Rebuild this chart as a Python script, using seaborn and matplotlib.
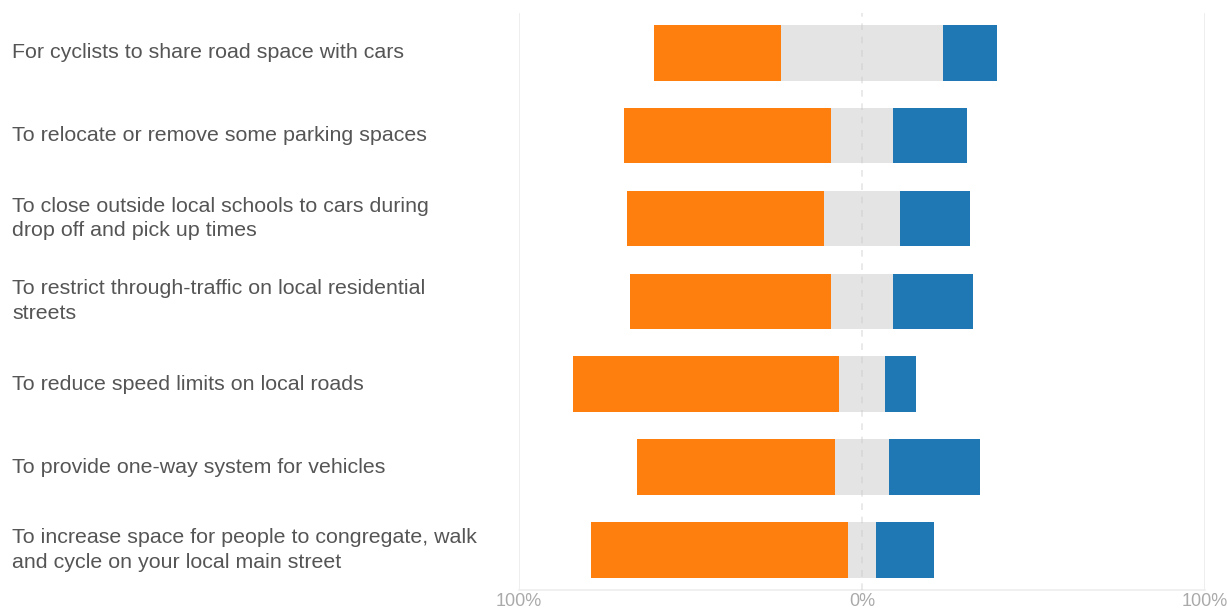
import matplotlib
matplotlib.use("Agg")
import matplotlib.pyplot as plt
import seaborn as sns
import pandas as pd
import numpy as np

# Survey statements (top to bottom)
statements = [
    "For cyclists to share road space with cars",
    "To relocate or remove some parking spaces",
    "To close outside local schools to cars during\ndrop off and pick up times",
    "To restrict through-traffic on local residential\nstreets",
    "To reduce speed limits on local roads",
    "To provide one-way system for vehicles",
    "To increase space for people to congregate, walk\nand cycle on your local main street",
]

# Share of responses (%)
oppose = [37, 60.5, 57.5, 58.5, 77.5, 57.5, 75]
neutral = [47, 18, 22, 18, 13.5, 16, 8]
support = [16, 21.5, 20.5, 23.5, 9, 26.5, 17]

x_ticks = [-100, 0, 100]
x_tick_labels = ["100%", "0%", "100%"]

sns.set_theme(style="white")
plt.rcParams["font.family"] = ["Liberation Sans", "DejaVu Sans"]

df = pd.DataFrame({
    "statement": statements,
    "oppose": oppose,
    "neutral": neutral,
    "support": support,
})
# Neutral block is centred on zero; oppose extends left, support right
df["neutral_left"] = -df["neutral"] / 2
df["oppose_left"] = df["neutral_left"] - df["oppose"]
df["support_left"] = df["neutral"] / 2

fig = plt.figure(figsize=(12.27, 6.08), dpi=100)
ax = fig.add_axes([519 / 1227, 1 - 590 / 608, (1205 - 519) / 1227, (590 - 12.7) / 608])

segments = [
    ("oppose", "oppose_left", "#ff7f0e"),
    ("neutral", "neutral_left", "#e4e4e4"),
    ("support", "support_left", "#1f77b4"),
]
for value_col, left_col, color in segments:
    sns.barplot(
        data=df, x=value_col, y="statement", left=df[left_col].to_numpy(),
        orient="h", color=color, width=0.67, saturation=1,
        linewidth=0, ax=ax, zorder=2,
    )

# Reference lines
for xv in (-100, 100):
    ax.axvline(xv, color="#ebebeb", lw=1.2, zorder=0)
ax.axvline(0, color="#c8c8c8", lw=1.2, ls=(0, (4, 4)), alpha=0.45, zorder=3)

ax.set_xlim(-100, 100)
ax.set_ylim(6.485, -0.485)
ax.set_xticks(x_ticks)
ax.set_xticklabels(x_tick_labels, color="#aaaaaa", fontsize=13)
ax.set_xlabel("")
ax.set_ylabel("")

for lbl in ax.get_yticklabels():
    lbl.set_horizontalalignment("left")
    lbl.set_verticalalignment("center")
    lbl.set_color("#555555")
    lbl.set_fontsize(15.4)
    lbl.set_linespacing(1.38)
ax.tick_params(axis="y", length=0, pad=(519 - 12) * 72 / 100)
ax.tick_params(axis="x", length=0, pad=2)

for side in ("top", "right", "left"):
    ax.spines[side].set_visible(False)
ax.spines["bottom"].set_color("#eeeeee")
ax.spines["bottom"].set_linewidth(1.2)

fig.savefig("out.png", dpi=100)
